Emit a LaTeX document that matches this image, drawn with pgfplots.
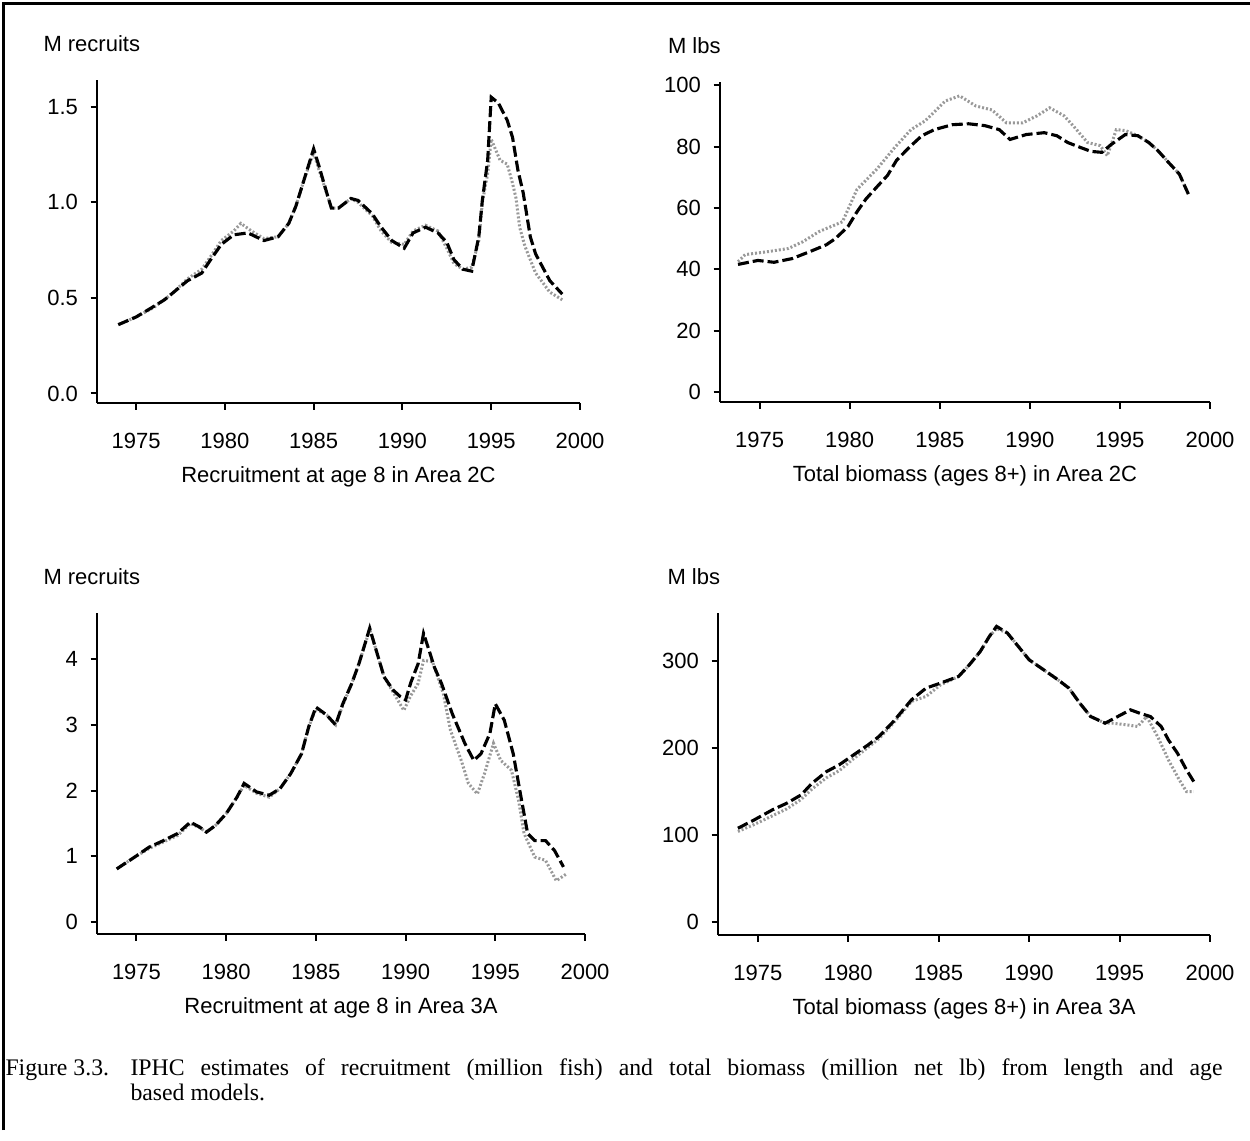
\documentclass[border=0pt]{standalone}
\usepackage{pgfplots}
\pgfplotsset{compat=1.18}
\usepackage{fontspec}
\setmainfont{Liberation Sans}
\newfontfamily\capfont{Liberation Serif}
\pgfplotsset{
  panel/.style={
    scale only axis,
    axis x line*=bottom, axis y line*=left,
    xmin=1972.8, xmax=2000,
    xtick={1975,1980,1985,1990,1995,2000},
    xticklabels={1975,1980,1985,1990,1995,2000},
    tick align=outside, major tick length=2.6pt,
    axis line style={line width=1.1pt},
    every tick/.style={black, line width=0.8pt},
    tick label style={font=\fontsize{8.8}{10}\selectfont},
    /pgf/number format/assume math mode=true,
    xticklabel style={yshift=-6pt},
    yticklabel style={xshift=-1.5pt},
    xlabel style={at={(axis description cs:0.5,0)}, anchor=center, yshift=-29.5pt, font=\fontsize{8.8}{10}\selectfont},
    clip=false,
  },
  lenmod/.style={black, line width=1.25pt, dash pattern=on 4.4pt off 1.6pt},
  agemod/.style={black!40, line width=1.2pt, dash pattern=on 0.8pt off 0.8pt},
}
\newcommand{\ylab}[2]{\node[anchor=west, font=\fontsize{8.8}{10}\selectfont, inner sep=0pt] at (rel axis cs:0,1) [xshift=#2, yshift=14.4pt] {#1};}
\begin{document}
\begin{tikzpicture}
\path[use as bounding box] (0,0) rectangle (500pt,-456pt);
\draw[line width=1.2pt] (1.2pt,-452pt) -- (1.2pt,-1.4pt) -- (500pt,-1.4pt);

% Panel 1
\begin{axis}[panel, at={(38.8pt,-161.2pt)}, anchor=south west, width=193.2pt, height=129.2pt,
  ymin=-0.05, ymax=1.64, ytick={0,0.5,1,1.5}, yticklabels={0.0,0.5,1.0,1.5},
  xlabel={Recruitment at age 8 in Area 2C}]
\addplot[agemod] table {
1974.0 0.36
1975.0 0.40
1976.0 0.45
1977.0 0.52
1977.9 0.60
1978.7 0.65
1979.3 0.73
1979.8 0.80
1980.5 0.85
1980.9 0.89
1981.5 0.85
1982.2 0.81
1983.0 0.82
1983.6 0.89
1984.0 0.98
1984.5 1.13
1985.0 1.26
1985.3 1.17
1985.8 1.03
1986.0 0.97
1986.4 0.97
1987.1 1.02
1987.5 1.00
1988.3 0.93
1988.8 0.85
1989.4 0.79
1990.1 0.78
1990.6 0.85
1991.3 0.88
1992.0 0.85
1992.5 0.76
1992.9 0.68
1993.4 0.65
1993.9 0.66
1994.3 0.80
1994.5 1.00
1994.8 1.15
1995.0 1.33
1995.5 1.22
1995.9 1.20
1996.2 1.10
1996.4 1.02
1996.6 0.87
1996.9 0.77
1997.5 0.63
1998.3 0.53
1999.0 0.49
};
\addplot[lenmod] table {
1974.0 0.36
1975.0 0.40
1975.9 0.45
1976.6 0.49
1977.9 0.59
1978.7 0.63
1979.2 0.70
1979.8 0.78
1980.5 0.83
1981.3 0.84
1982.2 0.80
1983.0 0.82
1983.6 0.89
1984.0 0.98
1984.5 1.13
1985.0 1.28
1985.3 1.19
1985.8 1.03
1986.0 0.97
1986.4 0.97
1987.1 1.02
1987.5 1.01
1988.3 0.94
1988.8 0.87
1989.4 0.80
1990.1 0.76
1990.6 0.84
1991.3 0.87
1992.0 0.84
1992.5 0.79
1992.9 0.70
1993.4 0.65
1993.9 0.64
1994.3 0.82
1994.5 1.01
1994.8 1.22
1995.0 1.55
1995.4 1.52
1995.9 1.43
1996.2 1.34
1996.5 1.17
1996.8 1.05
1997.2 0.82
1997.5 0.73
1998.3 0.59
1999.0 0.52
};
\ylab{M recruits}{-21.6pt}
\end{axis}

% Panel 2
\begin{axis}[panel, at={(288pt,-160.8pt)}, anchor=south west, width=196pt, height=128pt,
  ymin=-3.2, ymax=101, ytick={0,20,40,60,80,100},
  xlabel={Total biomass (ages 8+) in Area 2C}]
\addplot[agemod] table {
1973.8 42.5
1974.2 44.8
1975.5 45.8
1976.6 46.8
1977.4 49.0
1978.3 52.3
1979.6 55.5
1980.4 66.0
1981.5 72.6
1982.5 79.7
1983.4 85.5
1984.2 88.4
1985.3 94.8
1986.1 96.5
1987.0 93.2
1987.9 91.9
1988.7 87.7
1989.6 87.7
1990.4 90.0
1991.1 92.6
1991.9 90.0
1992.5 86.1
1993.2 81.3
1993.9 80.3
1994.3 77.0
1994.8 85.5
1995.3 85.2
1996.0 83.5
1996.6 81.3
1997.1 78.7
1997.7 74.8
1998.3 71.0
1998.8 64.5
};
\addplot[lenmod] table {
1973.8 41.6
1974.9 42.9
1975.8 42.3
1976.8 43.5
1977.8 45.8
1978.7 48.0
1979.2 50.0
1979.9 53.9
1980.4 58.7
1980.9 62.9
1981.5 66.8
1982.1 70.6
1982.6 75.5
1983.3 79.7
1984.0 83.5
1984.7 85.5
1985.7 87.1
1986.6 87.4
1987.5 86.8
1988.3 85.5
1988.9 82.3
1989.8 83.9
1990.8 84.5
1991.5 83.5
1992.1 81.3
1992.8 79.7
1993.4 78.4
1994.0 78.1
1994.5 80.6
1995.3 83.9
1996.0 83.5
1996.6 81.3
1997.1 78.7
1997.7 74.8
1998.3 71.0
1998.8 64.5
};
\ylab{M lbs}{-21pt}
\end{axis}

% Panel 3
\begin{axis}[panel, at={(38.8pt,-373.6pt)}, anchor=south west, width=195.2pt, height=128.4pt,
  ymin=-0.18, ymax=4.7, ytick={0,1,2,3,4},
  xlabel={Recruitment at age 8 in Area 3A}]
\addplot[agemod] table {
1973.9 0.81
1974.9 0.99
1975.7 1.12
1976.5 1.22
1977.3 1.32
1978.0 1.50
1978.5 1.44
1978.9 1.37
1979.4 1.47
1980.0 1.65
1980.6 1.90
1981.0 2.08
1981.7 1.96
1982.4 1.90
1983.0 2.03
1983.6 2.26
1984.2 2.56
1984.6 2.97
1985.0 3.24
1985.6 3.15
1986.1 3.00
1986.5 3.30
1987.0 3.63
1987.4 3.93
1988.0 4.45
1988.3 4.19
1988.8 3.73
1989.3 3.50
1989.9 3.22
1990.3 3.45
1990.7 3.63
1991.0 3.98
1991.5 3.96
1992.1 3.48
1992.5 2.92
1993.1 2.46
1993.5 2.11
1994.0 1.95
1994.4 2.26
1994.9 2.72
1995.3 2.46
1995.9 2.31
1996.3 1.85
1996.6 1.35
1997.2 0.99
1997.8 0.94
1998.4 0.63
1999.0 0.74
};
\addplot[lenmod] table {
1973.9 0.81
1974.9 0.99
1975.7 1.14
1976.5 1.24
1977.3 1.35
1978.0 1.52
1978.5 1.45
1978.9 1.37
1979.4 1.47
1980.0 1.65
1980.6 1.90
1981.0 2.11
1981.7 1.98
1982.4 1.93
1983.0 2.03
1983.6 2.26
1984.2 2.56
1984.6 2.97
1985.0 3.27
1985.6 3.15
1986.1 3.00
1986.5 3.32
1987.0 3.63
1987.4 3.93
1988.0 4.47
1988.3 4.19
1988.8 3.73
1989.3 3.53
1989.7 3.43
1990.0 3.38
1990.3 3.65
1990.7 3.93
1991.0 4.39
1991.3 4.14
1991.6 3.88
1992.0 3.63
1992.6 3.17
1993.3 2.72
1993.8 2.46
1994.2 2.56
1994.7 2.87
1995.0 3.32
1995.5 3.07
1996.0 2.56
1996.4 1.95
1996.8 1.35
1997.2 1.24
1997.8 1.24
1998.3 1.09
1998.8 0.84
};
\ylab{M recruits}{-21.6pt}
\end{axis}

% Panel 4
\begin{axis}[panel, at={(287.2pt,-374pt)}, anchor=south west, width=196.8pt, height=128.8pt,
  ymin=-15.4, ymax=355.8, ytick={0,100,200,300},
  xlabel={Total biomass (ages 8+) in Area 3A}]
\addplot[agemod] table {
1973.9 104.0
1974.8 112.0
1975.8 122.0
1976.6 130.0
1977.4 141.0
1978.0 153.0
1978.8 166.0
1979.5 174.0
1980.3 188.0
1981.1 201.0
1981.7 211.0
1982.5 229.0
1983.5 254.0
1984.3 259.6
1985.1 273.0
1986.1 282.7
1986.7 296.2
1987.3 311.5
1987.8 328.8
1988.2 338.0
1988.8 332.7
1989.4 317.3
1990.0 301.9
1990.8 290.4
1991.6 278.8
1992.2 269.2
1992.8 251.9
1993.4 236.5
1994.2 228.8
1994.6 228.8
1995.4 226.9
1996.0 225.0
1996.5 236.5
1997.1 213.5
1997.7 186.5
1998.3 163.5
1998.7 150.0
1999.1 150.0
};
\addplot[lenmod] table {
1973.9 107.7
1974.8 117.3
1975.8 128.8
1976.6 136.5
1977.4 146.2
1978.0 159.6
1978.8 173.0
1979.5 180.8
1980.3 192.3
1981.1 203.8
1981.7 213.5
1982.5 230.8
1983.5 255.8
1984.3 269.2
1985.1 275.0
1986.1 282.7
1986.7 296.2
1987.3 311.5
1987.8 328.8
1988.2 340.4
1988.8 332.7
1989.4 317.3
1990.0 301.9
1990.8 290.4
1991.6 278.8
1992.2 269.2
1992.8 251.9
1993.4 236.5
1994.2 228.8
1994.9 236.5
1995.6 244.2
1996.1 240.4
1996.7 236.5
1997.3 225.0
1997.7 209.6
1998.2 194.2
1998.7 175.0
1999.1 161.5
};
\ylab{M lbs}{-20.4pt}
\end{axis}

% Caption
\node[anchor=base west, font=\capfont\fontsize{9.5}{10}\selectfont, inner sep=0pt] at (2pt,-430pt) {Figure 3.3.};
\node[anchor=base west, font=\capfont\fontsize{9.5}{10}\selectfont, inner sep=0pt, text width=436.8pt, align=justify] at (52pt,-430pt) {\hyphenpenalty=10000 IPHC estimates of recruitment (million fish) and total biomass (million net lb) from length and age\linebreak based models.};
\end{tikzpicture}
\end{document}
